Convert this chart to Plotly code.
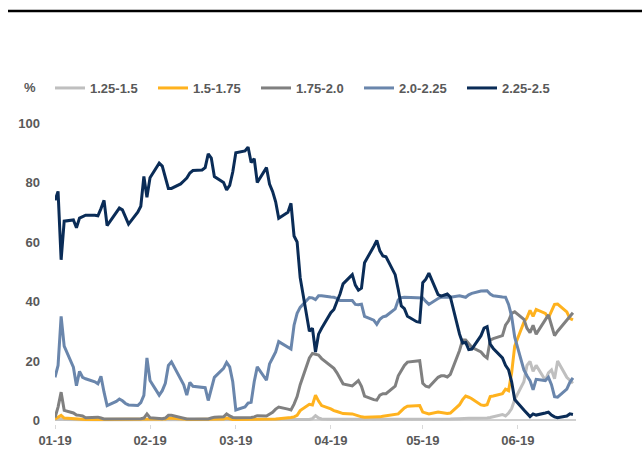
import pandas as pd
import plotly.graph_objects as go

dates = pd.bdate_range("2019-01-01", "2019-06-19")

labels = ["1.25-1.5", "1.5-1.75", "1.75-2.0", "2.0-2.25", "2.25-2.5"]
colors = ["#BFBFBF", "#FFB21E", "#808080", "#6A86AC", "#0A2C57"]

r125_150 = [0.3, 0.5, 0.5, 0.3,
            0.2, 0.2, 0.2, 0.2, 0.2,  0.2, 0.2, 0.2, 0.2, 0.2,  0.2, 0.2, 0.2, 0.2, 0.2,
            0.2, 0.2, 0.2, 0.2, 0.2,  0.2, 0.2, 0.2, 0.2, 0.2,  0.2, 0.2, 0.2, 0.2, 0.2,
            0.2, 0.2, 0.2, 0.2, 0.2,  0.2, 0.2, 0.2, 0.2, 0.2,  0.2, 0.2, 0.2, 0.2, 0.2,
            0.2, 0.2, 0.2, 0.2, 0.2,  0.2, 0.2, 0.2, 0.2, 0.2,
            0.3, 0.6, 1.6, 0.8, 0.5,  0.4, 0.4, 0.3, 0.3, 0.3,  0.3, 0.3, 0.3, 0.3, 0.3,
            0.3, 0.3, 0.3, 0.3, 0.3,  0.3, 0.3, 0.4, 0.5, 0.5,  0.5, 0.5, 0.4, 0.4, 0.4,
            0.4, 0.4, 0.4, 0.5, 0.5,  0.6, 0.7, 0.7, 0.7, 0.7,  0.7, 0.7, 0.8, 1.0, 1.2,
            2.0, 1.5, 2.5, 4.0, 7.0,  13.0, 18.5, 19.8, 16.5, 18.5,  13.5, 16.0, 17.0, 14.0, 20.0,
            14.5, 13.5, 12.5]

r150_175 = [0.5, 1.0, 1.7, 0.8,
            0.6, 0.4, 0.3, 0.3, 0.3,  0.3, 0.3, 0.3, 0.3, 0.3,  0.3, 0.3, 0.3, 0.3, 0.3,
            0.3, 0.3, 0.3, 0.4, 0.3,  0.3, 0.3, 0.5, 0.8, 0.7,  0.4, 0.3, 0.3, 0.3, 0.3,
            0.3, 0.3, 0.3, 0.3, 0.4,  0.5, 0.8, 0.5, 0.3, 0.3,  0.3, 0.3, 0.3, 0.4, 0.4,
            0.3, 0.3, 0.4, 0.5, 0.6,  0.8, 1.0, 1.2, 1.7, 3.3,
            5.4, 5.2, 8.5, 6.5, 5.0,  3.9, 3.3, 3.0, 2.7, 2.3,  2.2, 1.8, 1.5, 1.2, 1.1,
            1.1, 1.1, 1.2, 1.4, 1.6,  2.0, 2.2, 3.2, 4.2, 4.8,  5.0, 5.0, 2.8, 2.4, 2.2,
            2.8, 2.7, 2.5, 2.3, 2.5,  5.3, 7.0, 8.2, 7.8, 7.3,  5.2, 5.0, 5.3, 8.0, 8.2,
            9.0, 10.5, 10.0, 16.0, 25.0,  33.0, 34.5, 37.0, 35.0, 37.3,  36.0, 34.5, 36.5, 39.0, 39.1,
            36.5, 34.3, 33.8]

r175_200 = [1.0, 4.5, 9.5, 3.4,
            2.5, 1.8, 1.7, 1.5, 0.9,  1.0, 1.1, 0.8, 0.5, 0.5,  0.5, 0.5, 0.5, 0.5, 0.5,
            0.5, 0.6, 0.8, 2.2, 0.9,  0.6, 0.6, 0.8, 1.7, 1.7,  1.0, 0.7, 0.5, 0.5, 0.5,
            0.5, 0.5, 0.5, 0.8, 1.1,  1.2, 2.2, 1.5, 1.0, 0.9,  0.9, 0.8, 1.0, 1.2, 1.6,
            1.5, 2.0, 2.7, 3.8, 4.5,  3.8, 3.5, 5.5, 8.0, 12.0,
            21.0, 22.5, 22.3, 22.0, 20.8,  18.5, 17.5, 16.0, 14.0, 12.3,  11.6, 12.5, 13.4, 11.5, 8.2,
            7.0, 6.8, 8.5, 9.0, 9.0,  11.5, 15.0, 17.0, 18.5, 19.6,  20.1, 20.1, 12.5, 11.5, 11.2,
            14.5, 15.0, 15.0, 14.6, 15.5,  23.5, 27.0, 27.0, 25.8, 24.6,  23.0, 21.8, 21.0, 27.0, 27.5,
            28.5, 32.0, 33.5, 36.0, 36.5,  34.0, 31.0, 29.5, 32.0, 29.0,  33.7, 35.5, 32.0, 28.5, 30.0,
            33.5, 34.7, 36.2]

r200_225 = [14.5, 18.5, 35.0, 25.0,
            17.9, 11.7, 16.5, 14.5, 14.0,  13.0, 12.3, 14.8, 9.5, 5.0,  6.4, 7.2, 6.6, 5.7, 5.2,
            5.0, 6.0, 8.4, 21.0, 13.4,  8.5, 10.0, 12.5, 18.5, 19.7,  14.0, 12.0, 8.5, 12.8, 11.5,
            11.2, 11.0, 6.7, 11.0, 14.5,  17.5, 19.5, 18.0, 13.0, 3.5,  4.5, 5.8, 6.1, 13.0, 18.0,
            13.5, 19.0, 21.0, 23.0, 26.5,  24.5, 24.0, 32.0, 36.0, 38.0,
            41.3, 41.2, 40.6, 41.9, 41.9,  41.5, 41.4, 41.0, 40.3, 40.3,  40.3, 39.0, 38.9, 39.1, 35.0,
            33.7, 32.3, 34.0, 34.8, 35.1,  37.5, 40.5, 41.3, 41.4, 41.4,  41.4, 41.4, 41.2, 40.0, 39.0,
            41.0, 41.4, 41.4, 41.4, 41.4,  41.9, 41.7, 41.4, 42.2, 42.7,  43.5, 43.6, 43.6, 42.5, 41.9,
            41.5, 41.4, 39.0, 35.0, 28.0,  17.0, 15.0, 13.4, 10.3, 13.8,  13.4, 14.5, 12.0, 8.0, 7.8,
            10.5, 12.8, 14.3]

r225_250 = [74.0, 77.0, 54.0, 67.0,
            67.4, 64.8, 68.0, 68.5, 69.0,  69.0, 68.8, 71.2, 74.0, 65.5,  70.2, 71.4, 70.8, 68.5, 66.0,
            70.0, 72.0, 82.0, 75.0, 81.6,  86.5, 85.5, 82.0, 78.0, 78.0,  79.5, 80.5, 81.5, 83.2, 84.0,
            84.2, 85.0, 89.6, 88.2, 82.0,  80.0, 77.5, 79.0, 83.5, 90.0,  90.6, 91.9, 86.7, 88.0, 80.0,
            85.0, 79.5, 77.0, 73.5, 68.0,  70.0, 73.0, 62.0, 60.0, 48.0,
            30.0, 31.0, 23.0, 29.0, 31.0,  36.2, 37.3, 40.0, 42.5, 45.9,  49.0, 45.5, 43.8, 44.5, 53.0,
            58.5, 60.5, 57.0, 55.3, 55.0,  49.0, 44.0, 38.5, 37.6, 35.0,  33.2, 33.0, 46.3, 47.5, 49.5,
            42.3, 41.8, 42.2, 42.5, 41.5,  29.0, 26.0, 26.2, 23.8, 24.0,  28.5, 31.0, 31.5, 25.7, 24.2,
            21.0, 18.5, 17.0, 13.0, 7.0,  3.5, 2.3, 1.3, 2.2, 1.8,  2.5, 2.8, 1.8, 1.2, 0.9,
            1.5, 2.2, 2.0]

series = [r125_150, r150_175, r175_200, r200_225, r225_250]

tick_vals = pd.date_range("2019-01-01", "2019-06-01", freq="MS")
tick_text = [d.strftime("%m-%y") for d in tick_vals]

FONT = "Liberation Sans, Arial, sans-serif"
TXT = "#595959"

fig = go.Figure()
for name, col, vals in zip(labels, colors, series):
    fig.add_trace(go.Scatter(x=dates, y=vals, name=name, mode="lines",
                             line=dict(color=col, width=3)))

W, H = 642, 459
L, R, T, B = 55, 66, 120, 35
pw, ph = W - L - R, H - T - B

def px_x(p):
    return (p - L) / pw

def px_y(p):
    return (H - B - p) / ph

fig.update_layout(
    width=W, height=H,
    margin=dict(l=L, r=R, t=T, b=B),
    paper_bgcolor="white", plot_bgcolor="white",
    font=dict(family=FONT, size=13, color=TXT, weight="bold"),
    showlegend=True,
    legend=dict(orientation="h", x=px_x(50), xanchor="left", y=px_y(88), yanchor="middle",
                entrywidth=58, entrywidthmode="pixels", tracegroupgap=0,
                font=dict(family=FONT, size=13, color=TXT, weight="bold"),
                bgcolor="rgba(0,0,0,0)"),
    xaxis=dict(type="date", range=["2019-01-01", "2019-06-20"],
               tickvals=tick_vals, ticktext=tick_text,
               showgrid=False, zeroline=False, showline=False,
               ticks="outside", ticklen=4, tickcolor="#D9D9D9", tickwidth=1,
               tickfont=dict(family=FONT, size=13, color=TXT, weight="bold")),
    yaxis=dict(range=[-1.2, 101], tickvals=[0, 20, 40, 60, 80, 100],
               showgrid=False, showline=False, ticks="",
               zeroline=True, zerolinecolor="#D0D0D0", zerolinewidth=1.5,
               ticklabelstandoff=14,
               tickfont=dict(family=FONT, size=13, color=TXT, weight="bold")),
    shapes=[dict(type="line", xref="paper", yref="paper",
                 x0=px_x(8), x1=px_x(645), y0=px_y(11), y1=px_y(11),
                 line=dict(color="black", width=2.5))],
    annotations=[dict(text="%", xref="paper", yref="paper", x=px_x(30), y=px_y(88),
                      showarrow=False, xanchor="center", yanchor="middle",
                      font=dict(family=FONT, size=13, color=TXT, weight="bold"))],
)

fig.write_html("out.html")
